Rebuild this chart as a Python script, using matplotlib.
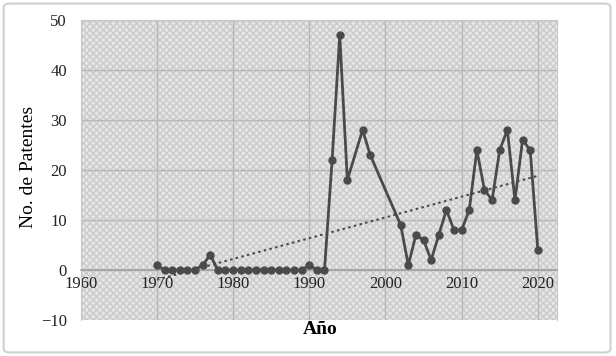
import numpy as np
import matplotlib
matplotlib.use("Agg")
from matplotlib import pyplot as plt
from matplotlib.patches import FancyBboxPatch

# Datos
años = [1970, 1971, 1972, 1973, 1974, 1975, 1976, 1977, 1978, 1979,
        1980, 1981, 1982, 1983, 1984, 1985, 1986, 1987, 1988, 1989,
        1990, 1991, 1992, 1993, 1994, 1995, 1997, 1998, 2002, 2003,
        2004, 2005, 2006, 2007, 2008, 2009, 2010, 2011, 2012, 2013,
        2014, 2015, 2016, 2017, 2018, 2019, 2020]
patentes = [1, 0, 0, 0, 0, 0, 1, 3, 0, 0,
            0, 0, 0, 0, 0, 0, 0, 0, 0, 0,
            1, 0, 0, 22, 47, 18, 28, 23, 9, 1,
            7, 6, 2, 7, 12, 8, 8, 12, 24, 16,
            14, 24, 28, 14, 26, 24, 4]

x_ticks = [1960, 1970, 1980, 1990, 2000, 2010, 2020]
y_ticks = [-10, 0, 10, 20, 30, 40, 50]

plt.rcParams["font.family"] = ["Liberation Serif", "DejaVu Serif"]

fig = plt.figure(figsize=(6.16, 3.56), dpi=100)
ax = fig.add_axes([0.131, 0.101, 0.773, 0.843])

# Fondo con textura gris
ax.set_facecolor("#e6e6e6")
ax.add_patch(plt.Rectangle((0, 0), 1, 1, transform=ax.transAxes, facecolor="none",
                           edgecolor="#cbcbcb", hatch="xxxxx", linewidth=0, zorder=0))

# Línea de tendencia lineal
x = np.array(años, dtype=float)
y = np.array(patentes, dtype=float)
m, b = np.polyfit(x, y, 1)
ax.plot([x[0], x[-1]], [m * x[0] + b, m * x[-1] + b], linestyle=(0, (1.2, 1.6)),
        color="#4a4a4a", linewidth=1.5, zorder=3)

ax.plot(años, patentes, color="#4a4a4a", linewidth=2, marker="o", markersize=5, zorder=4)

ax.set_xlim(1960, 2022.5)
ax.set_ylim(-10, 50)
ax.set_xticks(x_ticks)
ax.set_yticks(y_ticks)
ax.grid(True, color="#b8b8b8", linewidth=1)
ax.set_axisbelow(True)
ax.tick_params(length=0, labelsize=12, colors="#222222")
ax.tick_params(axis="y", pad=10)
ax.tick_params(axis="x", pad=4)

for lado in ["top", "right", "left"]:
    ax.spines[lado].set_color("#c8c8c8")
ax.spines["bottom"].set_position(("data", 0))
ax.spines["bottom"].set_color("#a0a0a0")
ax.spines["bottom"].set_linewidth(1.2)

fig.text(0.047, 0.53, "No. de Patentes", rotation=90, ha="center", va="center", fontsize=14)
fig.text(0.52, 0.075, "Año", ha="center", va="center", fontsize=14, fontweight="bold")

# Marco exterior
fig.patches.append(FancyBboxPatch((0.006, 0.01), 0.985, 0.98, boxstyle="round,pad=0,rounding_size=0.01",
                                  transform=fig.transFigure, facecolor="none",
                                  edgecolor="#d0d0d0", linewidth=1.5))

fig.savefig("out.png", dpi=100)
